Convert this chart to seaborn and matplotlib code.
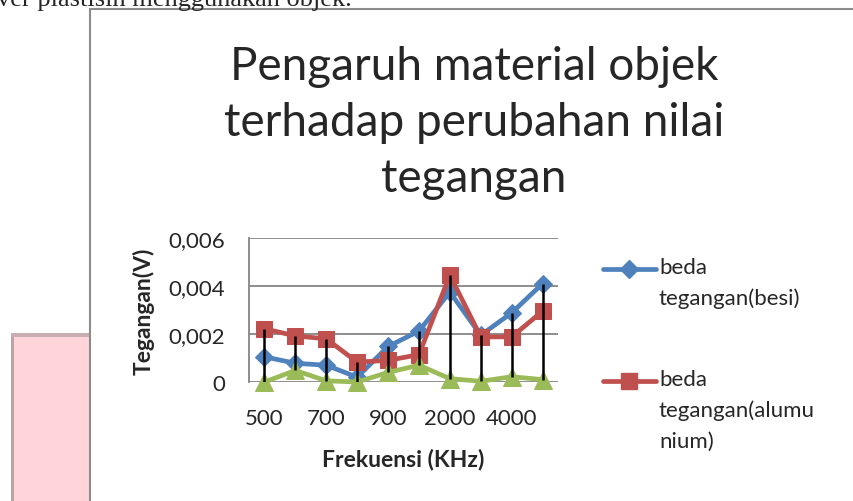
import numpy as np
import matplotlib
matplotlib.use("Agg")
import matplotlib.pyplot as plt
from matplotlib.patches import Rectangle
from matplotlib.lines import Line2D
import seaborn as sns

# data
frekuensi = [500, 600, 700, 800, 900, 1000, 2000, 3000, 4000, 5000]
beda_besi = [0.00105, 0.00078, 0.0007, 0.0002, 0.00148, 0.00212, 0.00375, 0.00195, 0.00288, 0.0041]
beda_alumunium = [0.00222, 0.00192, 0.0018, 0.00083, 0.0009, 0.00114, 0.00445, 0.00188, 0.00188, 0.00295]
beda_ketiga = [0.0, 0.00048, 0.00005, 0.0, 0.0004, 0.0007, 0.00014, 0.00003, 0.00022, 0.0001]
y_ticks = [0, 0.002, 0.004, 0.006]
y_tick_labels = ["0", "0,002", "0,004", "0,006"]
legend_labels = ["beda\ntegangan(besi)", "beda\ntegangan(alumu\nnium)"]

blue, red, green = "#4F81BD", "#C0504D", "#9BBB59"
font = ["Lato", "DejaVu Sans"]

sns.set_style("white")
plt.rcParams["font.family"] = font

fig = plt.figure(figsize=(8.54, 5.02), dpi=100)
W, H = 854, 502

def fx(px):
    return px / W

def fy(py):
    return 1 - py / H

# surrounding page bits
fig.text(fx(-3), fy(6), "ver plastisin menggunakan objek.", family="Liberation Serif",
         fontsize=19, va="baseline", ha="left")
fig.patches.append(Rectangle((fx(11), fy(560)), fx(80), fy(335) - fy(560),
                             transform=fig.transFigure, facecolor="#FFD5DA",
                             edgecolor="none", zorder=0))
fig.patches.append(Rectangle((fx(11), fy(560)), fx(3), fy(335) - fy(560),
                             transform=fig.transFigure, facecolor="#BFA2A6",
                             edgecolor="none", zorder=0))
fig.patches.append(Rectangle((fx(11), fy(338)), fx(79), fy(334) - fy(338),
                             transform=fig.transFigure, facecolor="#C8AEB2",
                             edgecolor="none", zorder=0))
# chart frame
fig.patches.append(Rectangle((fx(90), fy(560)), fx(900), fy(10) - fy(560),
                             transform=fig.transFigure, facecolor="white",
                             edgecolor="#8C8C8C", lw=1.5, zorder=1))

ax = fig.add_axes([fx(249), fy(383), fx(558) - fx(249), fy(239) - fy(383)])
ax.set_zorder(2)
ax.patch.set_alpha(0)

x = np.arange(len(frekuensi))
sns.lineplot(x=x, y=beda_besi, ax=ax, color=blue, lw=3.4, marker="D", markersize=9,
             markeredgecolor=blue, zorder=3)
sns.lineplot(x=x, y=beda_alumunium, ax=ax, color=red, lw=3.4, marker="s", markersize=11.5,
             markeredgecolor=red, zorder=3)
sns.lineplot(x=x, y=beda_ketiga, ax=ax, color=green, lw=3.4, marker="^", markersize=13,
             markeredgecolor=green, zorder=3)
for line in ax.lines:
    line.set_clip_on(False)

# high-low lines
all_vals = np.array([beda_besi, beda_alumunium, beda_ketiga])
ax.vlines(x, all_vals.min(axis=0), all_vals.max(axis=0), color="black", lw=1.8, zorder=4)

ax.set_xlim(-0.5, len(frekuensi) - 0.5)
ax.set_ylim(0, 0.006)
ax.set_yticks(y_ticks)
ax.set_yticklabels(y_tick_labels, fontsize=16)
ax.set_xticks(x[::2])
ax.set_xticklabels([str(f) for f in frekuensi[::2]], fontsize=16)
ax.grid(axis="y", color="#868686", lw=1.3)
ax.set_axisbelow(True)
for s in ["top", "right", "bottom"]:
    ax.spines[s].set_visible(False)
ax.spines["left"].set_color("#868686")
ax.spines["left"].set_linewidth(1.3)
ax.tick_params(axis="y", length=7, color="#868686", width=1.3, pad=10)
ax.tick_params(axis="x", length=0, pad=19)
ax.set_xlabel("Frekuensi (KHz)", fontsize=16.5, fontweight="bold", labelpad=14)
ax.set_ylabel("Tegangan(V)", fontsize=16.5, fontweight="bold", labelpad=10)

# title
fig.text(fx(474), fy(123), "Pengaruh material objek\nterhadap perubahan nilai\ntegangan",
         ha="center", va="center", fontsize=33, linespacing=1.4, zorder=5)

# legend entries
for ypx, col, mk, ms, label in [(270, blue, "D", 9, legend_labels[0]),
                                 (382, red, "s", 11.5, legend_labels[1])]:
    fig.add_artist(Line2D([fx(603), fx(656)], [fy(ypx), fy(ypx)], color=col, lw=3.4,
                          solid_capstyle="round", transform=fig.transFigure, zorder=5))
    fig.add_artist(Line2D([fx(629.5)], [fy(ypx)], color=col, marker=mk, markersize=ms,
                          transform=fig.transFigure, zorder=5))
    fig.text(fx(659), fy(ypx - 12), label, ha="left", va="top", fontsize=16,
             linespacing=1.65, zorder=5)

fig.savefig("out.png", dpi=100)
